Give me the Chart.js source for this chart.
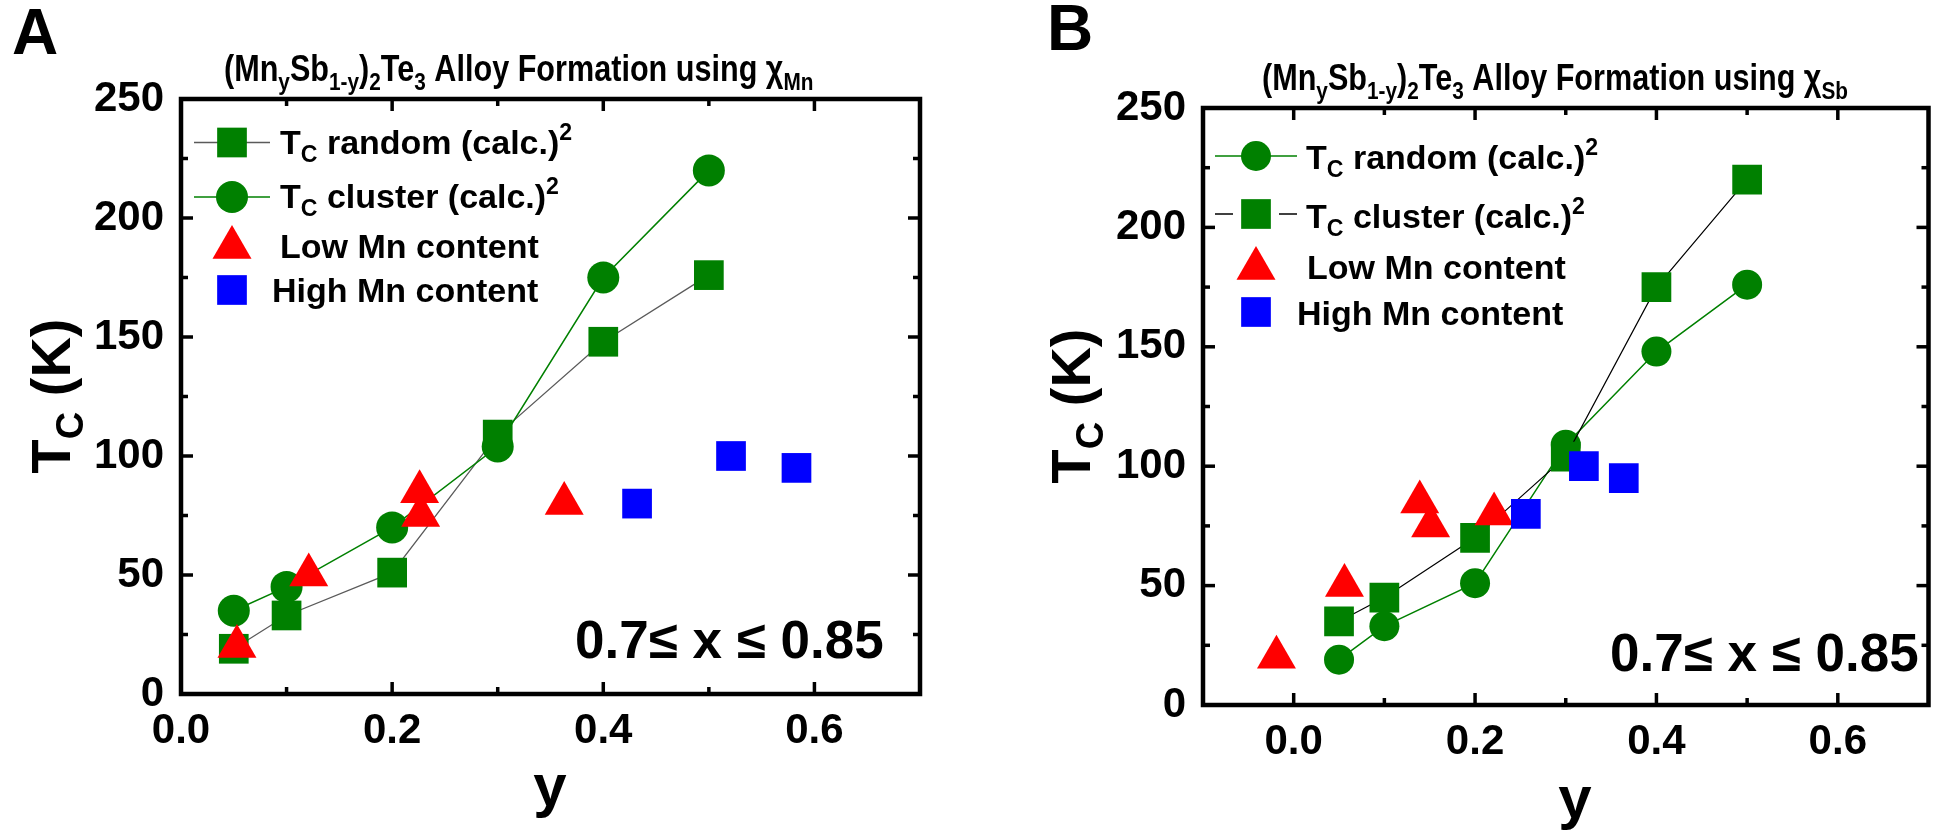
<!DOCTYPE html>
<html>
<head>
<meta charset="utf-8">
<script src="https://cdn.jsdelivr.net/npm/chart.js@4.4.1/dist/chart.umd.min.js"></script>
<style>
html, body { margin: 0; padding: 0; background: #fff; overflow: hidden; }
canvas { position: absolute; top: 0; }
#chartA { left: 0; }
#chartB { left: 975px; }
</style>
</head>
<body>
<canvas id="chartA" width="975" height="832"></canvas>
<canvas id="chartB" width="976" height="832"></canvas>
<script>
// Mn fraction y and the calculated Curie temperatures (K)
const yFrac = [0.05, 0.1, 0.2, 0.3, 0.4, 0.5];
const tcRandom = [19, 33, 51, 109, 148, 176];
const tcCluster = [35, 45, 70, 104, 175, 220];

// experimental points, placed with chi_Mn (A) and chi_Sb (B)
const lowMnA = [0.053, 0.121, 0.226, 0.227, 0.363];
const lowMnB = [-0.019, 0.056, 0.139, 0.151, 0.221];
const lowMnTc = [20, 50, 85, 75, 80];
const highMnA = [0.432, 0.521, 0.583];
const highMnB = [0.256, 0.32, 0.364];
const highMnTc = [80, 100, 95];

// axis ticks
const xTicks = [0, 0.2, 0.4, 0.6];
const xMinor = [0.1, 0.3, 0.5];
const yTicks = [0, 50, 100, 150, 200, 250];
const yMinor = [25, 75, 125, 175, 225];

const GREEN = '#008000';
const RED = '#ff0000';
const BLUE = '#0000ff';
const GREY = '#5a5a5a';
const FONT = '"Liberation Sans", Arial, Helvetica, sans-serif';

Chart.defaults.font.family = FONT;

function pts(xs, ys) {
    return xs.map((v, i) => ({ x: v, y: ys[i] }));
}

function richText(ctx, x, y, runs, base, sx) {
    sx = sx || 1;
    ctx.save();
    ctx.translate(x, y);
    ctx.scale(sx, 1);
    ctx.textBaseline = 'alphabetic';
    ctx.textAlign = 'left';
    let cx = 0;
    runs.forEach(function(r) {
        const kind = r[1];
        const size = kind ? base * 0.68 : base;
        ctx.font = 'bold ' + size + 'px ' + FONT;
        const dy = kind === 1 ? base * 0.24 : (kind === 2 ? -base * 0.4 : 0);
        ctx.fillText(r[0], cx, dy);
        cx += ctx.measureText(r[0]).width;
    });
    ctx.restore();
    return cx * sx;
}

function marker(ctx, style, x, y, r, color) {
    ctx.fillStyle = color;
    ctx.beginPath();
    if (style === 'rect') {
        const s = r * Math.SQRT1_2;
        ctx.rect(x - s, y - s, 2 * s, 2 * s);
    } else if (style === 'circle') {
        ctx.arc(x, y, r, 0, Math.PI * 2);
    } else {
        ctx.moveTo(x, y - r);
        ctx.lineTo(x + 0.866 * r, y + 0.5 * r);
        ctx.lineTo(x - 0.866 * r, y + 0.5 * r);
        ctx.closePath();
    }
    ctx.fill();
}

// frame with inward ticks, legend and the texts
const decor = {
    id: 'decor',
    afterDraw(chart, args, o) {
        const ctx = chart.ctx;
        const a = chart.chartArea;
        const xs = chart.scales.x, ys = chart.scales.y;
        ctx.save();
        ctx.strokeStyle = '#000';
        ctx.lineCap = 'butt';
        ctx.lineWidth = 3.5;
        function seg(x1, y1, x2, y2) {
            ctx.beginPath(); ctx.moveTo(x1, y1); ctx.lineTo(x2, y2); ctx.stroke();
        }
        xTicks.forEach(v => { const p = xs.getPixelForValue(v); seg(p, a.bottom, p, a.bottom - 12); seg(p, a.top, p, a.top + 12); });
        xMinor.forEach(v => { const p = xs.getPixelForValue(v); seg(p, a.bottom, p, a.bottom - 7); seg(p, a.top, p, a.top + 7); });
        yTicks.forEach(v => { const p = ys.getPixelForValue(v); seg(a.left, p, a.left + 12, p); seg(a.right, p, a.right - 12, p); });
        yMinor.forEach(v => { const p = ys.getPixelForValue(v); seg(a.left, p, a.left + 7, p); seg(a.right, p, a.right - 7, p); });
        ctx.lineWidth = 4.5;
        ctx.strokeRect(a.left, a.top, a.right - a.left, a.bottom - a.top);

        ctx.translate(-o.offX, 0);
        ctx.fillStyle = '#000';

        // legend
        o.legend.forEach(function(e) {
            if (e.line) {
                ctx.strokeStyle = e.line;
                ctx.lineWidth = 1.5;
                e.segs.forEach(s => seg(s[0], e.cy, s[1], e.cy));
            }
            marker(ctx, e.style, o.legX, e.cy, e.r, e.color);
            ctx.fillStyle = '#000';
            richText(ctx, e.tx, e.ty, e.runs, 34);
        });

        // title
        richText(ctx, o.title[0], o.title[1], [
            ['(Mn', 0], ['y', 1], ['Sb', 0], ['1-y', 1], [')', 0], ['2', 1],
            ['Te', 0], ['3', 1], [' Alloy Formation using ', 0], ['\u03c7', 0], [o.chi, 1]
        ], 36, 0.85);

        // panel letter
        ctx.font = 'bold 64px ' + FONT;
        ctx.textAlign = 'left';
        ctx.textBaseline = 'alphabetic';
        ctx.fillText(o.letter, o.letterPos[0], o.letterPos[1]);

        // condition
        ctx.font = 'bold 53px ' + FONT;
        ctx.fillText('0.7\u2264 x \u2264 0.85', o.note[0], o.note[1]);

        // x title
        ctx.font = 'bold 60px ' + FONT;
        ctx.textAlign = 'center';
        ctx.fillText('y', o.xTitle[0], o.xTitle[1]);

        // y title
        ctx.save();
        ctx.translate(o.yTitle[0], o.yTitle[1]);
        ctx.rotate(-Math.PI / 2);
        const runs = [['T', 0], ['C', 1], [' (K)', 0]];
        let w = 0;
        runs.forEach(r => { ctx.font = 'bold ' + (r[1] ? 56 * 0.68 : 56) + 'px ' + FONT; w += ctx.measureText(r[0]).width; });
        richText(ctx, -w / 2, 0, runs, 56);
        ctx.restore();

        ctx.restore();
    }
};

function makeChart(id, cfg) {
    return new Chart(document.getElementById(id), {
        type: 'scatter',
        data: { datasets: cfg.datasets },
        options: {
            responsive: false,
            animation: false,
            events: [],
            layout: { padding: cfg.padding },
            plugins: {
                legend: { display: false },
                tooltip: { enabled: false },
                decor: cfg.decor
            },
            scales: {
                x: {
                    type: 'linear',
                    min: cfg.xMin, max: 0.7,
                    grid: { display: false, drawTicks: false },
                    border: { display: false },
                    afterBuildTicks: s => { s.ticks = xTicks.map(v => ({ value: v })); },
                    afterFit: s => { s.height = cfg.xHeight; },
                    ticks: {
                        color: '#000', padding: 12,
                        font: { size: 42, weight: 'bold' },
                        callback: v => v.toFixed(1)
                    }
                },
                y: {
                    type: 'linear',
                    min: 0, max: 250,
                    grid: { display: false, drawTicks: false },
                    border: { display: false },
                    afterBuildTicks: s => { s.ticks = yTicks.map(v => ({ value: v })); },
                    afterFit: s => { s.width = cfg.yWidth; },
                    ticks: {
                        color: '#000', padding: 17,
                        font: { size: 42, weight: 'bold' },
                        callback: v => String(v)
                    }
                }
            }
        },
        plugins: [decor]
    });
}

const randomLabel = [['T', 0], ['C', 1], [' random (calc.)', 0], ['2', 2]];
const clusterLabel = [['T', 0], ['C', 1], [' cluster (calc.)', 0], ['2', 2]];
const lowLabel = [['Low Mn content', 0]];
const highLabel = [['High Mn content', 0]];

makeChart('chartA', {
    xMin: 0,
    padding: { left: 0, top: 99, right: 55, bottom: 0 },
    xHeight: 138,
    yWidth: 181,
    datasets: [
        { label: 'random', data: pts(yFrac, tcRandom), showLine: true, borderColor: GREY, borderWidth: 1.3,
          pointStyle: 'rect', pointRadius: 21, pointBackgroundColor: GREEN, pointBorderWidth: 0, order: 4 },
        { label: 'cluster', data: pts(yFrac, tcCluster), showLine: true, borderColor: GREEN, borderWidth: 1.5,
          pointStyle: 'circle', pointRadius: 16, pointBackgroundColor: GREEN, pointBorderWidth: 0, order: 3 },
        { label: 'low', data: pts(lowMnA, lowMnTc), showLine: false,
          pointStyle: 'triangle', pointRadius: 22.5, pointBackgroundColor: RED, pointBorderWidth: 0, order: 2 },
        { label: 'high', data: pts(highMnA, highMnTc), showLine: false,
          pointStyle: 'rect', pointRadius: 21, pointBackgroundColor: BLUE, pointBorderWidth: 0, order: 1 }
    ],
    decor: {
        offX: 0, chi: 'Mn', letter: 'A',
        title: [224, 81], letterPos: [12, 54], note: [575, 658],
        xTitle: [550, 806], yTitle: [70, 396], legX: 232,
        legend: [
            { style: 'rect', r: 21, color: GREEN, line: GREY, segs: [[194, 270]], cy: 142.5, tx: 280, ty: 154, runs: randomLabel },
            { style: 'circle', r: 16, color: GREEN, line: GREEN, segs: [[194, 270]], cy: 197, tx: 280, ty: 208, runs: clusterLabel },
            { style: 'triangle', r: 22.5, color: RED, cy: 247.5, tx: 280, ty: 258, runs: lowLabel },
            { style: 'rect', r: 21, color: BLUE, cy: 290, tx: 272, ty: 302, runs: highLabel }
        ]
    }
});

makeChart('chartB', {
    xMin: -0.1,
    padding: { left: 0, top: 108, right: 5, bottom: 0 },
    xHeight: 127,
    yWidth: 228,
    datasets: [
        { label: 'random', data: pts(yFrac, tcRandom), showLine: true, borderColor: GREEN, borderWidth: 1.5,
          pointStyle: 'circle', pointRadius: 15, pointBackgroundColor: GREEN, pointBorderWidth: 0, order: 4 },
        { label: 'cluster', data: pts(yFrac, tcCluster), showLine: true, borderColor: '#000', borderWidth: 1.2,
          pointStyle: 'rect', pointRadius: 21, pointBackgroundColor: GREEN, pointBorderWidth: 0, order: 3 },
        { label: 'low', data: pts(lowMnB, lowMnTc), showLine: false,
          pointStyle: 'triangle', pointRadius: 22.5, pointBackgroundColor: RED, pointBorderWidth: 0, order: 2 },
        { label: 'high', data: pts(highMnB, highMnTc), showLine: false,
          pointStyle: 'rect', pointRadius: 21, pointBackgroundColor: BLUE, pointBorderWidth: 0, order: 1 }
    ],
    decor: {
        offX: 975, chi: 'Sb', letter: 'B',
        title: [1262, 90], letterPos: [1047, 50], note: [1610, 671],
        xTitle: [1575, 818], yTitle: [1090, 406], legX: 1256,
        legend: [
            { style: 'circle', r: 15, color: GREEN, line: GREEN, segs: [[1215, 1297]], cy: 156, tx: 1306, ty: 169, runs: randomLabel },
            { style: 'rect', r: 21, color: GREEN, line: '#000', segs: [[1215, 1233], [1279, 1297]], cy: 214, tx: 1306, ty: 228, runs: clusterLabel },
            { style: 'triangle', r: 22.5, color: RED, cy: 268.5, tx: 1307, ty: 279, runs: lowLabel },
            { style: 'rect', r: 21, color: BLUE, cy: 312, tx: 1297, ty: 325, runs: highLabel }
        ]
    }
});
</script>
</body>
</html>
